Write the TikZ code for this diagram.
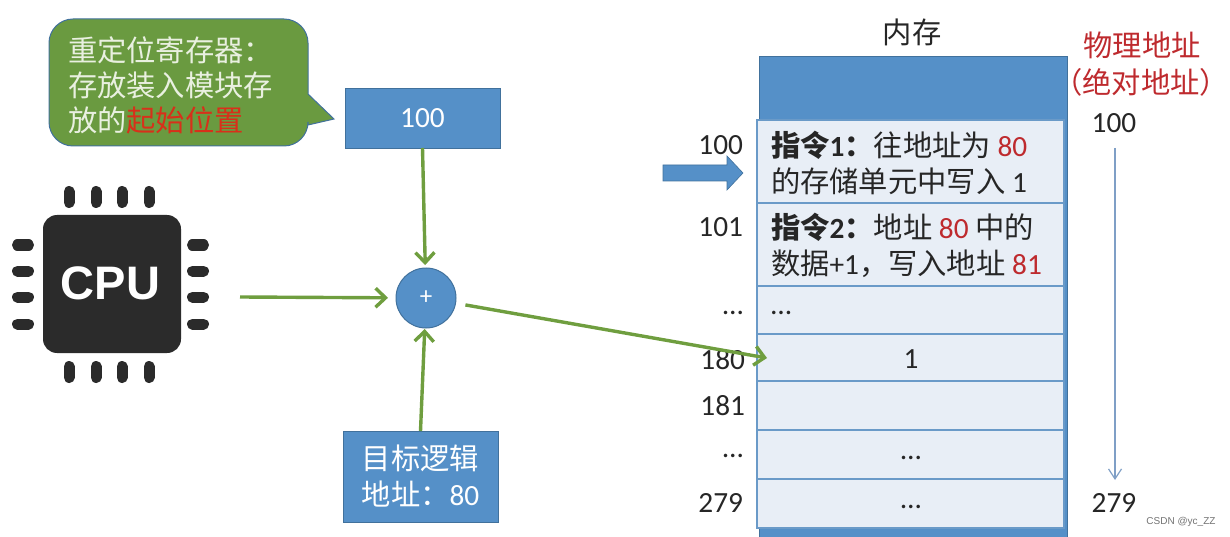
\documentclass[tikz,border=0pt]{standalone}
\usepackage{fontspec}
\setmainfont{Carlito}
\newfontfamily\cjk{Noto Sans CJK SC}
\newfontfamily\chipfont{Liberation Sans}
\usetikzlibrary{arrows.meta}
\newcommand{\cn}[1]{{\cjk #1}}
\definecolor{boxblue}{HTML}{5590C8}
\definecolor{edgeblue}{HTML}{41719C}
\definecolor{cellfill}{HTML}{E8EEF6}
\definecolor{celledge}{HTML}{6A9AC8}
\definecolor{callgreen}{HTML}{6A9A40}
\definecolor{arrowgreen}{HTML}{6F9E3F}
\definecolor{addrred}{HTML}{BE2A2E}
\definecolor{hotred}{HTML}{D8301A}
\definecolor{chipdark}{HTML}{2B2B2B}
\definecolor{thinblue}{HTML}{7F9FC6}
\definecolor{lighttext}{HTML}{E9F0E0}
\tikzset{
  x=1pt,y=-1pt,
  txt/.style={font=\fontsize{29.3}{36}\selectfont,inner sep=0pt,outer sep=0pt,text=black!85},
  bluebox/.style={draw=edgeblue,line width=0.8pt,fill=boxblue,text=white,align=center,inner sep=0pt,outer sep=0pt,font=\fontsize{29.3}{36}\selectfont},
  cellbox/.style={draw=celledge,line width=2pt,fill=cellfill,minimum width=307pt,anchor=north west,inner sep=0pt,outer sep=0pt},
  addr/.style={txt,anchor=east},
  pin/.style={line width=11pt,line cap=round,draw=chipdark},
  flow/.style={draw=arrowgreen,line width=3.4pt,-{Straight Barb[length=10pt,width=19pt,line width=3.4pt]}},
}
\begin{document}
\begin{tikzpicture}
\useasboundingbox (0,0) rectangle (1230,537);
% memory
\node[draw=edgeblue,line width=1pt,fill=boxblue,minimum width=308pt,minimum height=480pt,anchor=north west,inner sep=0pt,outer sep=0pt] (mem) at (759,57) {};
\node[txt] (memtitle) at (912,32) {\cn{内存}};
\node[cellbox,minimum height=83pt] (c1) at (757,120) {};
\node[txt,anchor=west,align=left] (t1) at (771,163) {\cn{\bfseries 指令}\textbf{1}\cn{\bfseries ：}\cn{往地址为} \textcolor{addrred}{80}\\\cn{的存储单元中写入} 1};
\node[cellbox,minimum height=83pt] (c2) at (757,203) {};
\node[txt,anchor=west,align=left] (t2) at (771,245) {\cn{\bfseries 指令}\textbf{2}\cn{\bfseries ：}\cn{地址} \textcolor{addrred}{80} \cn{中的}\\\cn{数据}+1\cn{，写入地址} \textcolor{addrred}{81}};
\node[cellbox,minimum height=48pt] (c3) at (757,286) {};
\node[txt,anchor=west] (t3) at (771,313) {…};
\node[cellbox,minimum height=47pt] (c4) at (757,334) {};
\node[txt] (t4) at (911,359) {1};
\node[cellbox,minimum height=49pt] (c5) at (757,381) {};
\node[cellbox,minimum height=49pt] (c6) at (757,430) {};
\node[txt] (t6) at (911,458) {…};
\node[cellbox,minimum height=49pt] (c7) at (757,479) {};
\node[txt] (t7) at (911,507) {…};
% left addresses
\node[addr] (a100) at (743,145) {100};
\node[addr] (a101) at (743,227) {101};
\node[addr] (adots1) at (743,313) {…};
\node[addr] (a180) at (745,360) {180};
\node[addr] (a181) at (745,406) {181};
\node[addr] (adots2) at (743,456) {…};
\node[addr] (a279) at (743,503) {279};
% pointer block arrow
\draw[draw=edgeblue,line width=0.6pt,fill=boxblue]
  (663,165) -- (727,165) -- (727,156) -- (743,173) -- (727,190) -- (727,181) -- (663,181) -- cycle;
% physical address
\node[txt,text=addrred] (phys) at (1142,45) {\cn{物理地址}};
\node[txt,text=addrred] (abs) at (1141,82) {\cn{（绝对地址）}};
\node[txt] (p100) at (1114,123) {100};
\node[txt] (p279) at (1114,503) {279};
\coordinate (ptop) at (1115,148);
\coordinate (pbot) at (1115,480);
\draw[draw=thinblue,line width=1.2pt,-{Straight Barb[length=10pt,width=13pt,line width=1.2pt]}] (ptop) -- (pbot);
\node[font=\fontsize{10}{12}\selectfont\chipfont,text=black!55,inner sep=0pt] (mark) at (1181,522) {CSDN @yc\_ZZ};
% callout
\draw[draw=edgeblue,line width=1pt,fill=callgreen]
  (73,19) -- (284,19) arc[start angle=-90,end angle=0,radius=24] -- (308,94) -- (334,119) -- (308,125) -- (308,122)
  arc[start angle=0,end angle=90,radius=24] -- (73,146) arc[start angle=90,end angle=180,radius=24] -- (49,43) arc[start angle=180,end angle=270,radius=24] -- cycle;
\node[txt,anchor=west,align=left,text=lighttext,font=\fontsize{29.3}{35}\selectfont] (calltext) at (68,85) {\cn{重定位寄存器：}\\\cn{存放装入模块存}\\\cn{放的\textcolor{hotred}{起始位置}}};
% boxes
\node[bluebox,minimum width=155pt,minimum height=60pt,anchor=north west] (reg) at (345,88) {100};
\node[bluebox,minimum width=155pt,minimum height=91pt,anchor=north west] (tgt) at (343,431) {\cn{目标逻辑}\\\cn{地址：}80};
\node[circle,draw=edgeblue,line width=1pt,fill=boxblue,text=white,minimum size=60pt,inner sep=0pt,outer sep=0pt,font=\fontsize{25}{28}\selectfont] (adder) at (426,298) {+};
% chip
\foreach \x in {69,96,122,149}{
  \draw[pin] (\x,191.5) -- (\x,202.5);
  \draw[pin] (\x,366.5) -- (\x,377.5);
}
\foreach \y in {245,271,297,324}{
  \draw[pin] (17.5,\y) -- (28.5,\y);
  \draw[pin] (192.5,\y) -- (203.5,\y);
}
\node[draw=none,fill=chipdark,rounded corners=14pt,minimum width=138pt,minimum height=138pt,inner sep=0pt,outer sep=0pt,text=white,font=\fontsize{47}{50}\selectfont\chipfont\bfseries] (cpu) at (112,284) {\raisebox{1pt}{\kern-3pt CPU}};
% connectors
\coordinate (cpuout) at (240,297);
\coordinate (cellin) at (767,358);
\draw[flow,shorten >=3pt] (reg.south) -- (adder);
\draw[flow,shorten >=8pt] (cpuout) -- (adder);
\draw[flow,shorten >=1pt] (tgt.north) -- (adder);
\draw[flow,shorten <=10pt] (adder) -- (cellin);
\end{tikzpicture}
\end{document}
